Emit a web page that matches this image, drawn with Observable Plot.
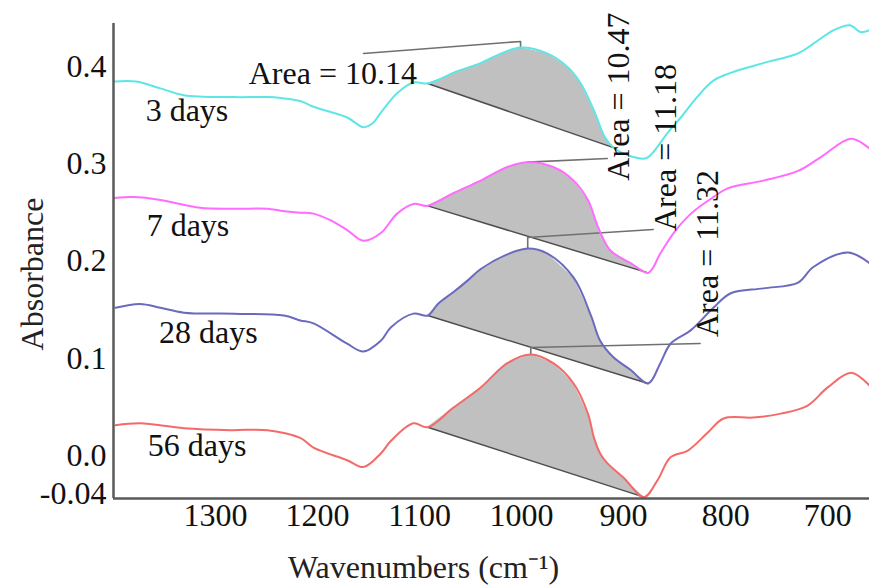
<!DOCTYPE html>
<html><head><meta charset="utf-8">
<script src="https://cdn.jsdelivr.net/npm/d3@7"></script>
<script src="https://cdn.jsdelivr.net/npm/@observablehq/plot@0.6"></script>
<style>html,body{margin:0;padding:0;background:#fff;}#chart{width:869px;height:586px;}</style>
</head><body><div id="chart"></div>
<script>
// ---- data (wavenumber in cm^-1, absorbance) ----
const seriesNames = ["3 days", "7 days", "28 days", "56 days"];

const wn3  = [1399,1378,1354,1331,1282,1249,1236,1217,1204,1171,1155,1146,1138,1122,1106,1092,1079,1067,1040,1024,1001,975,955,942,929,918,910,893,878,872,857,844,828,812,795,763,729,714,694,678,668,659];
const abs3 = [0.385,0.385,0.378,0.371,0.369,0.369,0.368,0.365,0.359,0.348,0.338,0.342,0.353,0.373,0.384,0.383,0.388,0.394,0.404,0.412,0.420,0.414,0.400,0.383,0.355,0.327,0.317,0.308,0.306,0.311,0.332,0.348,0.369,0.386,0.394,0.404,0.414,0.424,0.438,0.443,0.436,0.438];

const wn7  = [1399,1380,1354,1315,1282,1249,1236,1217,1204,1187,1171,1155,1138,1122,1106,1092,1067,1040,1014,994,969,949,935,925,913,893,876,864,851,834,812,798,763,729,707,677,659];
const abs7 = [0.265,0.266,0.263,0.255,0.254,0.254,0.252,0.250,0.249,0.242,0.232,0.221,0.229,0.249,0.259,0.257,0.270,0.283,0.297,0.302,0.297,0.283,0.263,0.235,0.211,0.198,0.188,0.208,0.229,0.249,0.266,0.275,0.283,0.293,0.307,0.326,0.316];

const wn28  = [1398,1374,1354,1331,1282,1233,1217,1204,1171,1155,1138,1128,1106,1092,1082,1067,1053,1040,1014,994,975,949,932,923,910,893,876,864,854,834,812,795,763,729,714,680,659];
const abs28 = [0.152,0.156,0.152,0.147,0.146,0.144,0.139,0.136,0.115,0.107,0.118,0.132,0.146,0.144,0.156,0.168,0.180,0.192,0.207,0.213,0.208,0.183,0.144,0.118,0.101,0.088,0.074,0.095,0.115,0.129,0.152,0.167,0.172,0.178,0.194,0.209,0.198];

const wn56  = [1398,1374,1331,1285,1249,1217,1204,1171,1155,1138,1128,1106,1092,1067,1040,1014,991,969,949,935,929,923,916,900,880,867,854,837,818,802,773,746,720,700,677,659];
const abs56 = [0.031,0.033,0.028,0.026,0.026,0.018,0.008,-0.005,-0.012,0.002,0.015,0.033,0.029,0.049,0.070,0.095,0.104,0.095,0.074,0.043,0.018,0.002,-0.008,-0.023,-0.043,-0.026,-0.002,0.005,0.023,0.038,0.039,0.043,0.051,0.070,0.085,0.072];

const xTicks = [1300, 1200, 1100, 1000, 900, 800, 700];
const yTicks = [0.4, 0.3, 0.2, 0.1, 0.0, -0.04];

// integration bands (start/end wavenumbers) and their annotations
const bandStart = [1092, 1092, 1092, 1092];
const bandEnd   = [910, 876, 876, 880];
const areaLabels = ["Area = 10.14", "Area = 10.47", "Area = 11.18", "Area = 11.32"];
const areaLabelW = [1185, 905, 859, 818];
const areaLabelA = [0.3933, 0.3696, 0.3171, 0.2079];
const areaLabelRotate = [0, -90, -90, -90];
const leaderRiseA = [0.4263, 0.302, 0.2244, 0.1111];
const leaderEndW = [1155, 916, 871, 825];
const leaderEndA = [0.4139, 0.3058, 0.2327, 0.1152];
const dayLabelW = [1328, 1327, 1307, 1318];
const dayLabelA = [0.3552, 0.2368, 0.1266, 0.0102];

const colors = ["#5ee6e6", "#ff6cff", "#6a6abf", "#f46a6a"];

// ---- build tables ----
const wns = [wn3, wn7, wn28, wn56];
const absv = [abs3, abs7, abs28, abs56];
const curves = seriesNames.map((name, i) => wns[i].map((w, j) => ({series: name, w, a: absv[i][j]})));

const shades = [], baselines = [], leaders = [], areaText = [], dayText = [];
curves.forEach((pts, i) => {
  const s = pts.find(p => p.w === bandStart[i]);
  const e = pts.find(p => p.w === bandEnd[i]);
  const band = pts.filter(p => p.w <= bandStart[i] && p.w >= bandEnd[i]);
  band.forEach(p => shades.push({series: pts[0].series, w: p.w, a: p.a,
    b: s.a + (p.w - s.w) * (e.a - s.a) / (e.w - s.w)}));
  baselines.push({series: pts[0].series, w: s.w, a: s.a}, {series: pts[0].series, w: e.w, a: e.a});
  const peak = band.reduce((m, p) => p.a > m.a ? p : m, band[0]);
  leaders.push({k: i, w: peak.w, a: peak.a}, {k: i, w: peak.w, a: leaderRiseA[i]}, {k: i, w: leaderEndW[i], a: leaderEndA[i]});
  areaText.push({text: areaLabels[i], w: areaLabelW[i], a: areaLabelA[i], r: areaLabelRotate[i]});
  dayText.push({text: seriesNames[i], w: dayLabelW[i], a: dayLabelA[i]});
});
const allPts = curves.flat();

const xDomain = [1400, 659];
const yDomain = [-0.0444, 0.4448];
const serif = "'Liberation Serif', 'Times New Roman', serif";

const chart = Plot.plot({
  width: 869, height: 586,
  marginLeft: 113, marginRight: 0, marginTop: 23, marginBottom: 88,
  style: {fontFamily: serif, fontSize: "32px", color: "#111", background: "#fff", overflow: "visible"},
  x: {domain: xDomain, ticks: xTicks, tickSize: 0, tickPadding: 5, tickFormat: d => String(d), label: null},
  y: {domain: yDomain, ticks: yTicks, tickSize: 0, tickPadding: 7, label: null,
      tickFormat: d => d === -0.04 ? "-0.04" : d.toFixed(1)},
  color: {domain: seriesNames, range: colors},
  marks: [
    Plot.areaY(shades, {x: "w", y1: "b", y2: "a", z: "series", fill: "#c0c0c0", curve: "linear"}),
    Plot.line(baselines, {x: "w", y: "a", z: "series", stroke: "#4d4d4d", strokeWidth: 1.5}),
    Plot.line(leaders, {x: "w", y: "a", z: "k", stroke: "#707070", strokeWidth: 1.6}),
    Plot.line(allPts, {x: "w", y: "a", z: "series", stroke: "series", strokeWidth: 2, curve: "catmull-rom"}),
    Plot.text(areaText, {x: "w", y: "a", text: "text", rotate: "r", fontSize: 32, fill: "#111",
      textAnchor: "middle", lineAnchor: "middle"}),
    Plot.text(dayText, {x: "w", y: "a", text: "text", fontSize: 32, fill: "#111",
      textAnchor: "middle", lineAnchor: "middle"}),
    Plot.ruleY([yDomain[0]], {stroke: "#5a5a5a", strokeWidth: 2.5}),
    Plot.ruleX([xDomain[0]], {stroke: "#5a5a5a", strokeWidth: 2.5}),
    Plot.text(["Wavenumbers (cm\u207B\u00B9)"], {frameAnchor: "bottom", dx: -68, dy: 79, lineAnchor: "bottom",
      textAnchor: "middle", fontSize: 32, fill: "#222"}),
    Plot.text(["Absorbance"], {frameAnchor: "left", dx: -71, dy: 13, rotate: -90, lineAnchor: "bottom",
      textAnchor: "middle", fontSize: 32, fill: "#222"})
  ]
});
document.getElementById("chart").appendChild(chart);
</script>
</body></html>
